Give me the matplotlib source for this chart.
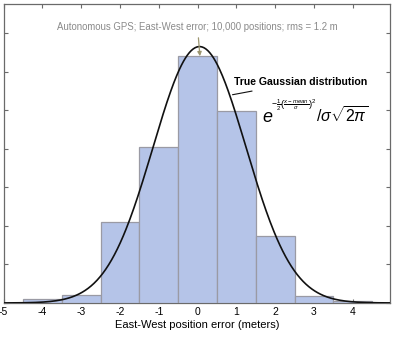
import numpy as np
import matplotlib
matplotlib.use("Agg")
import matplotlib.pyplot as plt

plt.rcParams['font.family'] = ['Liberation Sans', 'DejaVu Sans']
plt.rcParams['mathtext.fontset'] = 'custom'
plt.rcParams['mathtext.it'] = 'Liberation Sans:italic'
plt.rcParams['mathtext.rm'] = 'Liberation Sans'

# histogram of east-west error, 1 m bins (fraction of positions)
bin_centers = [-4, -3, -2, -1, 0, 1, 2, 3, 4]
fractions = [0.0048, 0.0104, 0.105, 0.2026, 0.320, 0.249, 0.0869, 0.0084, 0.003]
x_ticks = [-5, -4, -3, -2, -1, 0, 1, 2, 3, 4]

# reference normal curve
mean = 0.05
sigma = 1.2

bar_color = '#b5c4e8'
edge_color = '#9a9aa4'
frame_color = '#6a6a6a'

fig = plt.figure(figsize=(4.0, 3.37), dpi=100)
ax = fig.add_axes([0.009, 0.101, 0.966, 0.887])

ax.bar(bin_centers, fractions, width=1.0, color=bar_color, edgecolor=edge_color,
       linewidth=0.9, zorder=3)

xs = np.linspace(-5, 5, 400)
pdf = np.exp(-0.5 * ((xs - mean) / sigma) ** 2) / (sigma * np.sqrt(2 * np.pi))
ax.plot(xs, pdf, color='#111111', lw=1.2, zorder=4)

ax.set_xlim(-4.97, 4.96)
ax.set_ylim(0, 0.3876)
ax.set_xticks(x_ticks)
ax.set_xticklabels([str(t) for t in x_ticks])
ax.set_yticks(np.arange(0, 0.38, 0.05))
ax.set_yticklabels([])
ax.tick_params(axis='x', direction='in', top=True, length=3, width=0.8,
               color=frame_color, labelsize=7.5, pad=3)
ax.tick_params(axis='y', direction='in', right=True, length=3, width=0.8,
               color=frame_color)
for s in ax.spines.values():
    s.set_color(frame_color)
    s.set_linewidth(0.9)

ax.set_xlabel('East-West position error (meters)', fontsize=8, labelpad=2)

# annotations
ax.annotate('Autonomous GPS; East-West error; 10,000 positions; rms = 1.2 m',
            xy=(0.06, fractions[4]), xytext=(0.0, 0.3575),
            ha='center', va='center', fontsize=6.9, color='#8a8a8a',
            arrowprops=dict(arrowstyle='-|>', color='#9c9670', lw=0.9,
                            mutation_scale=6, shrinkA=2, shrinkB=0), zorder=5)

ax.annotate('True Gaussian distribution', xy=(0.9, 0.270), xytext=(2.65, 0.2865),
            ha='center', va='center', fontsize=7.6, fontweight='bold',
            arrowprops=dict(arrowstyle='-', color='#111111', lw=0.8,
                            shrinkA=5, shrinkB=0), zorder=5)

# density formula: e with a small exponent, then the normalising factor
ax.text(1.67, 0.240, r'$e$', ha='left', va='center', fontsize=13, zorder=5)
ax.text(1.90, 0.256, r'$-\frac{1}{2}\left(\frac{x-mean}{\sigma}\right)^2$',
        ha='left', va='center', fontsize=6.2, zorder=5)
ax.text(3.04, 0.243, r'$/\sigma\sqrt{2\pi}$',
        ha='left', va='center', fontsize=11.5, zorder=5)

fig.savefig('out.png', dpi=100)
